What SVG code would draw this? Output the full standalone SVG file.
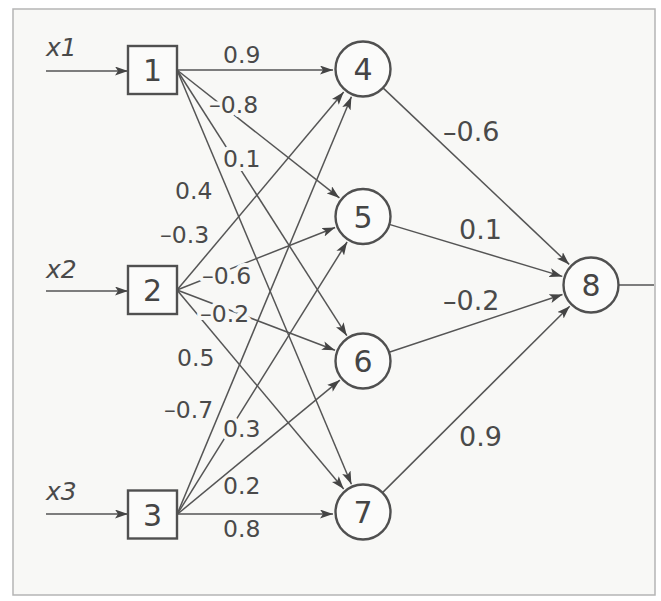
<svg xmlns="http://www.w3.org/2000/svg" width="661" height="601" viewBox="0 0 661 601">
<style>
.frame{fill:#f8f8f6;stroke:#b5b5b5;stroke-width:1.5}
.node{fill:#fbfbfa;stroke:#505050;stroke-width:2.4}
.nl{font-family:"DejaVu Sans",sans-serif;font-size:30px;fill:#454545;text-anchor:middle}
.w{font-family:"DejaVu Sans",sans-serif;font-size:23.5px;fill:#4a4a4a}
.wr{font-family:"DejaVu Sans",sans-serif;font-size:27px;fill:#4a4a4a}
.in{font-family:"DejaVu Sans",sans-serif;font-size:25px;fill:#4a4a4a;font-style:italic}
.halo{stroke:#f8f8f6;stroke-width:8;paint-order:stroke;stroke-linejoin:round}
.c line{stroke:#555;stroke-width:1.5;fill:none}
.c line.a{marker-end:url(#ah)}
</style>
<defs>
<marker id="ah" markerUnits="userSpaceOnUse" markerWidth="14" markerHeight="9" refX="13" refY="4.5" orient="auto">
<path d="M0,0 L13,4.5 L0,9 L3,4.5 z" fill="#444"/>
</marker>
</defs>
<rect class="frame" x="13" y="9" width="642" height="586"/>
<g id="connectors" class="c">
<line class="a" x1="46" y1="71" x2="128" y2="71"/>
<line class="a" x1="46" y1="291" x2="128" y2="291"/>
<line class="a" x1="46" y1="514" x2="128" y2="514"/>
<line class="a" x1="177" y1="70" x2="333" y2="70"/>
<line class="a" x1="177" y1="70" x2="339.4" y2="197.9"/>
<line class="a" x1="177" y1="70" x2="346.8" y2="335.7"/>
<line class="a" x1="177" y1="70" x2="351.4" y2="484.3"/>
<line class="a" x1="177" y1="290" x2="343.7" y2="92"/>
<line class="a" x1="177" y1="290" x2="335.1" y2="227.5"/>
<line class="a" x1="177" y1="290" x2="335" y2="350.3"/>
<line class="a" x1="177" y1="290" x2="343.7" y2="489"/>
<line class="a" x1="177" y1="514.5" x2="351.4" y2="96.7"/>
<line class="a" x1="177" y1="514.5" x2="347.1" y2="242"/>
<line class="a" x1="177" y1="514.5" x2="339.9" y2="380.1"/>
<line class="a" x1="177" y1="514" x2="333" y2="514"/>
<line class="a" x1="383" y1="87.9" x2="569.2" y2="264.4"/>
<line class="a" x1="389.3" y1="224.4" x2="562.3" y2="276.4"/>
<line class="a" x1="389.1" y1="352.3" x2="562.5" y2="294.5"/>
<line class="a" x1="382.5" y1="492.6" x2="569.7" y2="306.2"/>
<line x1="618.5" y1="285" x2="654" y2="285"/>
</g>
<g id="weights">
<text class="w" x="223" y="63">0.9</text>
<text class="w halo" x="209" y="113">–0.8</text>
<text class="w halo" x="223" y="167">0.1</text>
<text class="w" x="175" y="199">0.4</text>
<text class="w" x="160" y="243">–0.3</text>
<text class="w halo" x="202" y="284">–0.6</text>
<text class="w halo" x="200" y="322">–0.2</text>
<text class="w" x="177" y="366">0.5</text>
<text class="w" x="164" y="418">–0.7</text>
<text class="w halo" x="223" y="437">0.3</text>
<text class="w" x="223" y="494">0.2</text>
<text class="w" x="223" y="537">0.8</text>
<text class="wr" x="443" y="141">–0.6</text>
<text class="wr" x="459" y="239">0.1</text>
<text class="wr" x="443" y="310">–0.2</text>
<text class="wr" x="459" y="446">0.9</text>
</g>
<g id="inputs">
<text class="in" x="46" y="56">x1</text>
<text class="in" x="46" y="278">x2</text>
<text class="in" x="46" y="500">x3</text>
</g>
<g id="n1"><rect class="node" x="128" y="46" width="49" height="48"/><text class="nl" x="152.5" y="81">1</text></g>
<g id="n2"><rect class="node" x="128" y="266" width="49" height="48"/><text class="nl" x="152.5" y="301">2</text></g>
<g id="n3"><rect class="node" x="128" y="490.5" width="49" height="48"/><text class="nl" x="152.5" y="525.5">3</text></g>
<g id="n4"><circle class="node" cx="363" cy="69" r="27.5"/><text class="nl" x="363" y="80">4</text></g>
<g id="n5"><circle class="node" cx="363" cy="216.5" r="27.5"/><text class="nl" x="363" y="227.5">5</text></g>
<g id="n6"><circle class="node" cx="363" cy="361" r="27.5"/><text class="nl" x="363" y="372">6</text></g>
<g id="n7"><circle class="node" cx="363" cy="512" r="27.5"/><text class="nl" x="363" y="523">7</text></g>
<g id="n8"><circle class="node" cx="591" cy="285" r="27.5"/><text class="nl" x="591" y="296">8</text></g>
</svg>
